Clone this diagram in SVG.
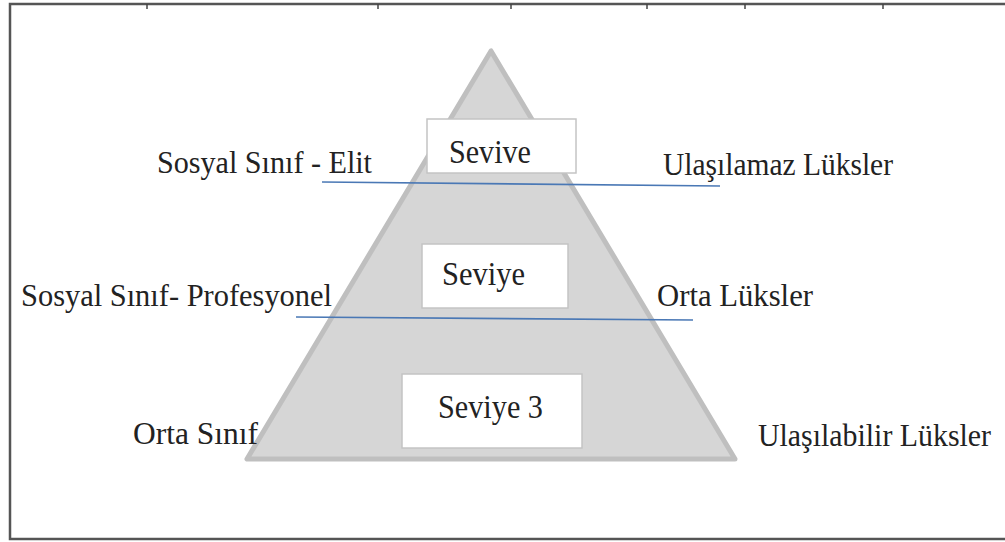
<svg xmlns="http://www.w3.org/2000/svg" width="1005" height="542" viewBox="0 0 1005 542">
<style>
.lbl{font-family:"Liberation Serif","Times New Roman",serif;font-size:31px;fill:#222;}
.big{font-size:33px;}
.box{fill:#fff;stroke:#c4c4c4;stroke-width:1.5;}
.conn{stroke:#4a78b5;stroke-width:1.6;fill:none;}
.tick{stroke:#444;stroke-width:1.5;}
</style>
<rect width="1005" height="542" fill="#fff"/>
<g id="frame">
<rect x="10" y="4" width="1010" height="535" fill="none" stroke="#555" stroke-width="2.5"/>
<line class="tick" x1="147" y1="4" x2="147" y2="9"/>
<line class="tick" x1="378" y1="4" x2="378" y2="9"/>
<line class="tick" x1="511" y1="4" x2="511" y2="9"/>
<line class="tick" x1="647" y1="4" x2="647" y2="9"/>
<line class="tick" x1="745" y1="4" x2="745" y2="9"/>
<line class="tick" x1="883" y1="4" x2="883" y2="9"/>
</g>
<g id="pyramid">
<polygon points="491,51 247,459 735,459" fill="#d6d6d6" stroke="#bfbfbf" stroke-width="5" stroke-linejoin="round"/>
</g>
<g id="connectors">
<line class="conn" x1="322" y1="182" x2="720" y2="186"/>
<line class="conn" x1="296" y1="317" x2="693" y2="320"/>
</g>
<g id="level1">
<rect class="box" x="427" y="119" width="149" height="54"/>
<text class="lbl big" x="449" y="163" textLength="82" lengthAdjust="spacingAndGlyphs">Sevive</text>
</g>
<g id="level2">
<rect class="box" x="422" y="244" width="146" height="64"/>
<text class="lbl big" x="442" y="285" textLength="83" lengthAdjust="spacingAndGlyphs">Seviye</text>
</g>
<g id="level3">
<rect class="box" x="402" y="374" width="180" height="74"/>
<text class="lbl big" x="438" y="418" textLength="105" lengthAdjust="spacingAndGlyphs">Seviye 3</text>
</g>
<g id="label-elit">
<text class="lbl" x="157" y="173" textLength="215" lengthAdjust="spacingAndGlyphs">Sosyal Sınıf - Elit</text>
</g>
<g id="label-ulasilamaz">
<text class="lbl" x="663" y="175" textLength="230" lengthAdjust="spacingAndGlyphs">Ulaşılamaz Lüksler</text>
</g>
<g id="label-profesyonel">
<text class="lbl" x="21" y="306" textLength="311" lengthAdjust="spacingAndGlyphs">Sosyal Sınıf- Profesyonel</text>
</g>
<g id="label-orta-luks">
<text class="lbl" x="657" y="306" textLength="156" lengthAdjust="spacingAndGlyphs">Orta Lüksler</text>
</g>
<g id="label-orta-sinif">
<text class="lbl" x="133" y="444" textLength="125" lengthAdjust="spacingAndGlyphs">Orta Sınıf</text>
</g>
<g id="label-ulasilabilir">
<text class="lbl" x="758" y="446" textLength="233" lengthAdjust="spacingAndGlyphs">Ulaşılabilir Lüksler</text>
</g>
</svg>
